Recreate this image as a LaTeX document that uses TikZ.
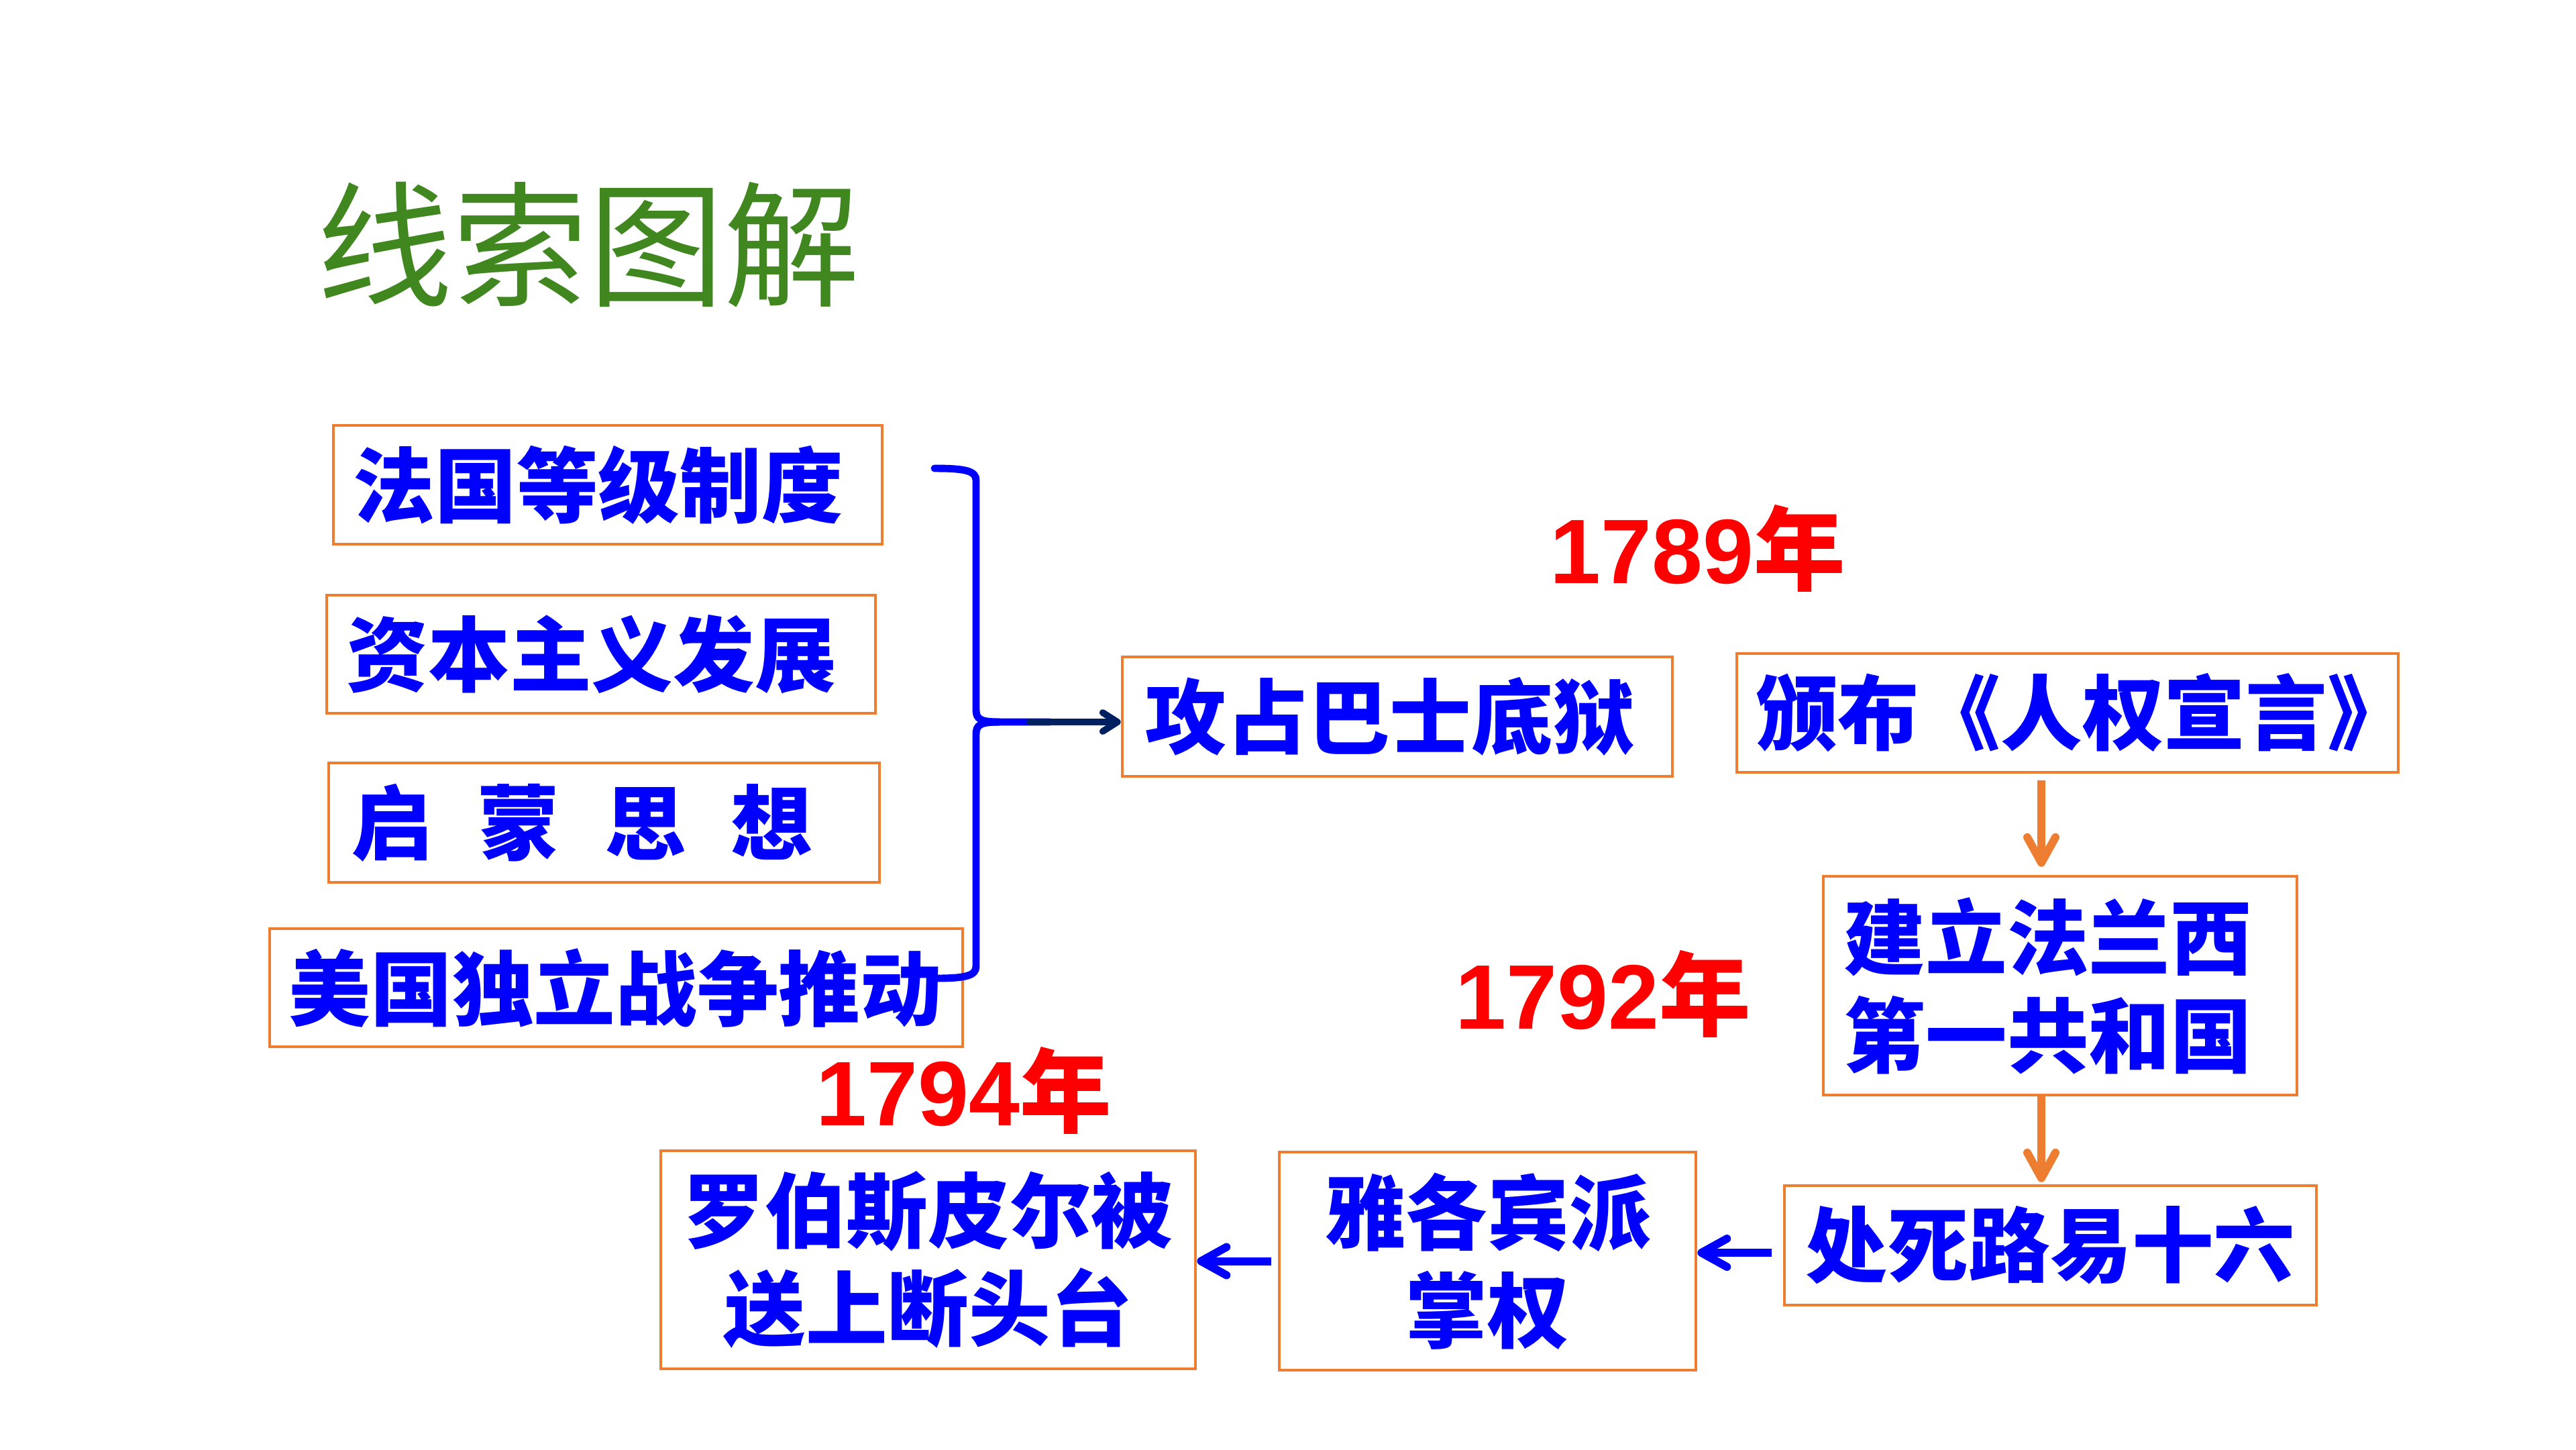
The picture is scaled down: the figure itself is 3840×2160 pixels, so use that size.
\documentclass[tikz,border=0pt]{standalone}
\usepackage{fontspec}
\newfontfamily\cjk{Noto Sans CJK SC}
\newfontfamily\latin{Liberation Sans}
\usetikzlibrary{arrows.meta}
\definecolor{boxorange}{RGB}{237,125,49}
\definecolor{txtblue}{RGB}{0,0,255}
\definecolor{navy}{RGB}{0,32,96}
\definecolor{ttlgreen}{RGB}{64,135,32}
\definecolor{yrred}{RGB}{255,0,0}
\tikzset{
  box/.style={draw=boxorange, line width=1.2pt, text=txtblue, inner ysep=0pt,
    font=\cjk\bfseries\fontsize{34.6pt}{41.5pt}\selectfont},
  leftbox/.style={box, align=left, inner xsep=0.3cm},
  midbox/.style={box, align=center, inner xsep=0pt},
  year/.style={text=yrred, inner sep=0pt, anchor=base west,
    font=\bfseries\fontsize{38.8pt}{40pt}\selectfont},
  brace/.style={draw=txtblue, line width=3.1pt, line cap=round},
  navyarrow/.style={draw=navy, line width=2.8pt, line cap=round,
    -{Straight Barb[length=0.22cm, width=0.28cm, round]}},
  bluearrow/.style={draw=txtblue, line width=3.4pt,
    -{Straight Barb[length=0.38cm, width=0.42cm, round]}},
  orangearrow/.style={draw=boxorange, line width=3.4pt,
    -{Straight Barb[length=0.38cm, width=0.42cm, round]}}
}
\begin{document}
\begin{tikzpicture}[x=0.01cm, y=-0.01cm]
\fill[white] (0,0) rectangle (3840,2160);
\useasboundingbox (0,0) rectangle (3840,2160);

% title
\node[text=ttlgreen, inner sep=0pt, font=\cjk\fontsize{57.5pt}{60pt}\selectfont] (title) at (877,365) {线索图解};

% left column
\node[leftbox, minimum width=8.18cm, minimum height=1.77cm, text width=7.58cm] (fg) at (906,722.5) {法国等级制度};
\node[leftbox, minimum width=8.18cm, minimum height=1.76cm, text width=7.58cm] (zb) at (896,975) {资本主义发展};
\node[leftbox, minimum width=8.21cm, minimum height=1.78cm, text width=7.53cm, inner xsep=0.34cm] (qm) at (900.5,1226) {启\hspace{0.67cm}蒙\hspace{0.67cm}思\hspace{0.67cm}想};
\node[leftbox, minimum width=10.33cm, minimum height=1.76cm, text width=9.75cm, inner xsep=0.29cm] (mg) at (918.5,1472) {美国独立战争推动};

% bracket
\coordinate (bt) at (1393,698);
\coordinate (bm) at (1565,1076);
\coordinate (bb) at (1395,1458);
\coordinate (bj) at (1490,1076);
\draw[brace] (bt) .. controls (1440,698) and (1455,702) .. (1455,716) -- (1455,1058) .. controls (1455,1072) and (1462,1076) .. (bj) -- (bm);
\draw[brace] (bj) .. controls (1462,1076) and (1455,1080) .. (1455,1094) -- (1455,1440) .. controls (1455,1454) and (1440,1458) .. (bb);

% events
\node[leftbox, minimum width=8.20cm, minimum height=1.78cm, text width=7.52cm, inner xsep=0.34cm] (gz) at (2083,1068) {攻占巴士底狱};
\node[box, inner xsep=0pt, minimum width=9.86cm, minimum height=1.77cm] (rq) at (3082,1062.5) {\hspace*{0.28cm}颁布《人权宣言》\hspace*{-0.16cm}};
\node[leftbox, minimum width=7.06cm, minimum height=3.26cm, text width=6.44cm, inner xsep=0.31cm] (jl) at (3071,1469) {建立法兰西\\第一共和国};
\node[midbox, minimum width=7.93cm, minimum height=1.78cm] (cs) at (3056.5,1856) {处死路易十六};
\node[midbox, minimum width=6.21cm, minimum height=3.25cm] (jc) at (2217.5,1879.5) {雅各宾派\\掌权};
\node[midbox, minimum width=7.97cm, minimum height=3.25cm] (lb) at (1383.5,1877.5) {罗伯斯皮尔被\\送上断头台};

% years
\node[year] (y1789) at (2310,869) {\latin 1789\cjk 年};
\node[year] (y1792) at (2169,1533) {\latin 1792\cjk 年};
\node[year] (y1794) at (1216,1677) {\latin 1794\cjk 年};

% connectors
\coordinate (na) at (1535,1076);
\draw[navyarrow] (na) -- (na -| gz.west);

\coordinate (ox) at (3043,0);
\draw[orangearrow, shorten <=0.1cm, shorten >=0.12cm] (rq.south -| ox) -- (jl.north -| ox);
\draw[orangearrow, shorten >=0.03cm] (jl.south -| ox) -- (cs.north -| ox);

\coordinate (ay) at (0,1867);
\draw[bluearrow, shorten <=0.17cm] (cs.west |- ay) -- (jc.east |- ay);
\draw[bluearrow, shorten <=0.10cm] (jc.west) -- (lb.east |- jc.west);
\end{tikzpicture}
\end{document}
